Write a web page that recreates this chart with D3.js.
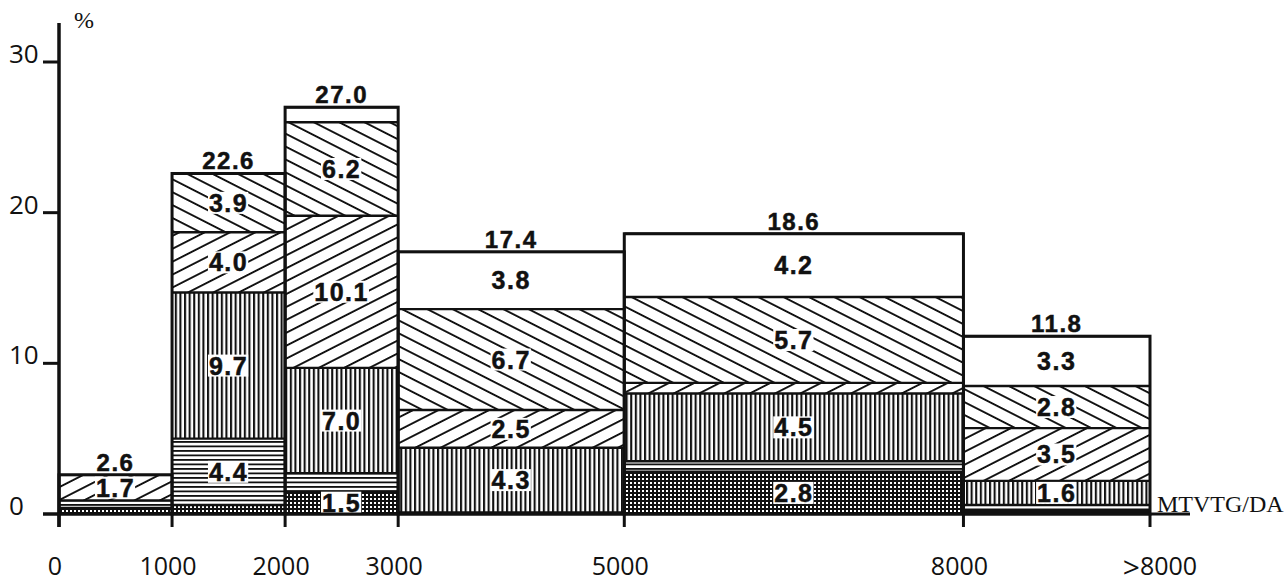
<!DOCTYPE html>
<html><head><meta charset="utf-8">
<script src="https://cdn.jsdelivr.net/npm/d3@7"></script>
<style>body{margin:0;background:#fff}</style>
</head><body><svg id="c" width="1288" height="586"></svg>
<script>
// ---- data ----
const binEdges   = [0, 1000, 2000, 3000, 5000, 8000, 9650];
const tickLabels = ["0", "1000", "2000", "3000", "5000", "8000", ">8000"];
const categories = ["grid", "hlines", "vlines", "fdiag", "bdiag", "blank"];
const gridVals   = [0.4, 0.6, 1.5, 0.1, 2.8, 0.2];
const hlineVals  = [0.5, 4.4, 1.2, 0.0, 0.7, 0.4];
const vlineVals  = [0.0, 9.7, 7.0, 4.3, 4.5, 1.6];
const fdiagVals  = [1.7, 4.0, 10.1, 2.5, 0.7, 3.5];
const bdiagVals  = [0.0, 3.9, 6.2, 6.7, 5.7, 2.8];
const blankVals  = [0.0, 0.0, 1.0, 3.8, 4.2, 3.3];
const totals     = [2.6, 22.6, 27.0, 17.4, 18.6, 11.8];
const yTicks     = [0, 10, 20, 30];
const yUnit = "%";
const xUnit = "MTVTG/DA";

const seriesVals = [gridVals, hlineVals, vlineVals, fdiagVals, bdiagVals, blankVals];
const rows = totals.map((t, i) => {
  const r = {i, x0: binEdges[i], x1: binEdges[i + 1], total: t};
  categories.forEach((c, k) => r[c] = seriesVals[k][i]);
  return r;
});

const svg = d3.select("#c");
const x = d3.scaleLinear().domain([0, 9650]).range([59, 1150]);
const y = d3.scaleLinear().domain([0, 30]).range([514, 62]);

// ---- patterns ----
const defs = svg.append("defs");
function pat(id, w, h, rot, draw) {
  const p = defs.append("pattern").attr("id", id).attr("patternUnits", "userSpaceOnUse")
    .attr("width", w).attr("height", h);
  if (rot) p.attr("patternTransform", `rotate(${rot})`);
  p.append("rect").attr("width", w).attr("height", h).attr("fill", "#fff");
  draw(p);
}
pat("grid", 4, 4, 0, p => {
  p.append("rect").attr("width", 4).attr("height", 2).attr("fill", "#111");
  p.append("rect").attr("width", 2).attr("height", 4).attr("fill", "#111");
});
pat("hlines", 8, 4.5, 0, p => p.append("rect").attr("width", 8).attr("height", 1.8).attr("fill", "#111"));
pat("vlines", 4.6, 8, 0, p => p.append("rect").attr("width", 2.1).attr("height", 8).attr("fill", "#111"));
pat("fdiag", 20, 11.5, -27, p => p.append("rect").attr("width", 20).attr("height", 1.9).attr("fill", "#111"));
pat("bdiag", 20, 11.5, 27, p => p.append("rect").attr("width", 20).attr("height", 1.9).attr("fill", "#111"));
const fills = {grid: "url(#grid)", hlines: "url(#hlines)", vlines: "url(#vlines)",
               fdiag: "url(#fdiag)", bdiag: "url(#bdiag)", blank: "#fff"};

// ---- stack ----
const stack = d3.stack().keys(categories)(rows);

const segG = svg.append("g");
stack.forEach(layer => {
  segG.selectAll(null).data(layer.filter(d => d[1] - d[0] > 0)).enter().append("rect")
    .attr("x", d => x(d.data.x0)).attr("width", d => x(d.data.x1) - x(d.data.x0))
    .attr("y", d => y(d[1])).attr("height", d => y(d[0]) - y(d[1]))
    .attr("fill", fills[layer.key]);
});
stack.forEach(layer => {
  segG.selectAll(null).data(layer.filter(d => d[1] - d[0] > 0)).enter().append("line")
    .attr("x1", d => x(d.data.x0)).attr("x2", d => x(d.data.x1))
    .attr("y1", d => y(d[1])).attr("y2", d => y(d[1]))
    .attr("stroke", "#111").attr("stroke-width", 2.4);
});
svg.append("g").selectAll("rect").data(rows).enter().append("rect")
  .attr("x", d => x(d.x0)).attr("width", d => x(d.x1) - x(d.x0))
  .attr("y", d => y(d.total)).attr("height", d => y(0) - y(d.total))
  .attr("fill", "none").attr("stroke", "#111").attr("stroke-width", 3);

const labFont = "Liberation Sans";
// segment labels
const labG = svg.append("g");
stack.forEach(layer => {
  layer.filter(d => d[1] - d[0] >= 1.5).forEach(d => {
    const cx = (x(d.data.x0) + x(d.data.x1)) / 2;
    const cy = (y(d[0]) + y(d[1])) / 2;
    const g = labG.append("g");
    const t = g.append("text").attr("x", cx).attr("y", cy + 9)
      .attr("text-anchor", "middle")
      .attr("font-family", labFont).attr("font-weight", "bold").attr("font-size", 25)
      .attr("letter-spacing", 1.5)
      .attr("fill", "#111").attr("stroke", "#111").attr("stroke-width", 0.5)
      .text((d[1] - d[0]).toFixed(1));
    const b = t.node().getBBox();
    g.insert("rect", "text").attr("x", b.x - 1).attr("y", cy - 11).attr("width", b.width + 1)
      .attr("height", 22).attr("fill", "#fff");
  });
});

// total labels
svg.append("g").selectAll("text").data(rows).enter().append("text")
  .attr("x", d => (x(d.x0) + x(d.x1)) / 2).attr("y", d => y(d.total) - 4)
  .attr("text-anchor", "middle")
  .attr("font-family", labFont).attr("font-weight", "bold").attr("font-size", 24)
  .attr("letter-spacing", 1.5)
  .attr("fill", "#111").attr("stroke", "#111").attr("stroke-width", 0.5)
  .text(d => d.total.toFixed(1));

// ---- axes ----
const ax = svg.append("g").attr("stroke", "#111");
ax.append("line").attr("x1", x(0)).attr("x2", x(0)).attr("y1", 23).attr("y2", 527).attr("stroke-width", 3.5);
ax.append("line").attr("x1", 43).attr("x2", 1190).attr("y1", y(0)).attr("y2", y(0)).attr("stroke-width", 3);
ax.selectAll(".yt").data(yTicks).enter().append("line")
  .attr("x1", 43).attr("x2", x(0)).attr("y1", d => y(d)).attr("y2", d => y(d)).attr("stroke-width", 3);
ax.selectAll(".xt").data(binEdges).enter().append("line")
  .attr("x1", d => x(d)).attr("x2", d => x(d)).attr("y1", y(0)).attr("y2", 527).attr("stroke-width", 3);

svg.append("g").selectAll("text").data(yTicks).enter().append("text")
  .attr("x", 9).attr("y", d => y(d) + 1)
  .attr("font-family", "Open Sans").attr("font-size", 26).attr("fill", "#111")
  .text(d => d);

const xl = svg.append("g").attr("font-family", "Open Sans").attr("font-size", 25).attr("fill", "#111");
xl.selectAll("text").data(binEdges).enter().append("text")
  .attr("x", (d, i) => i === binEdges.length - 1 ? x(d) + 10 : x(d) - 4)
  .attr("y", 575).attr("text-anchor", "middle")
  .each(function(d, i) {
    const lab = tickLabels[i];
    const t = d3.select(this);
    if (lab.startsWith(">")) {
      t.append("tspan").attr("font-size", 30).attr("dy", 3).text(">");
      t.append("tspan").attr("dy", -3).text(lab.slice(1));
    } else t.text(lab);
  });

svg.append("text").attr("x", 74).attr("y", 28).attr("font-family", "Liberation Serif")
  .attr("font-size", 24).attr("fill", "#111").text(yUnit);
svg.append("text").attr("x", 1157).attr("y", 512).attr("font-family", "Liberation Serif")
  .attr("font-size", 24).attr("fill", "#111").text(xUnit);
</script></body></html>
